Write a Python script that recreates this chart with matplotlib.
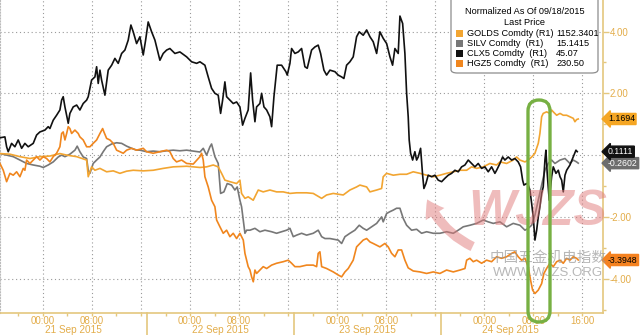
import numpy as np
import matplotlib
matplotlib.use('Agg')
import matplotlib.pyplot as plt
from matplotlib.patches import FancyBboxPatch, Rectangle
import matplotlib.transforms as mtransforms

plt.rcParams['font.family'] = ['Liberation Sans', 'Noto Sans CJK SC', 'DejaVu Sans']

# hours since 21 Sep 2015 00:00 , normalized change
clx5 = [(-7.01, 0.56), (-6.20, 0.59), (-5.92, 0.27), (-5.66, 0.11), (-5.11, 0.38), (-4.57, 0.27), (-4.03, 0.49),
        (-3.47, 0.22), (-2.94, 0.38), (-2.40, 0.27), (-1.58, 0.38), (-1.03, 0.65), (-0.49, 0.75), (0.33, 0.81),
        (0.86, 0.92), (1.14, 0.86), (1.68, 1.13), (2.23, 1.29), (2.77, 1.46), (3.05, 1.78), (3.31, 1.89),
        (3.59, 1.56), (4.13, 1.03), (4.40, 1.35), (4.94, 1.56), (5.50, 1.62), (6.03, 1.46), (6.57, 1.67),
        (7.13, 1.78), (7.39, 1.89), (7.94, 2.43), (8.48, 2.53), (8.76, 2.86), (9.02, 2.32), (9.30, 2.75),
        (9.57, 2.43), (10.11, 1.94), (10.65, 2.75), (11.21, 2.91), (11.74, 3.13), (12.28, 2.97), (12.84, 3.29),
        (13.37, 3.40), (13.91, 3.72), (14.35, 4.21), (14.73, 3.99), (15.28, 3.61), (15.82, 3.83), (16.36, 3.24),
        (16.75, 3.72), (17.17, 4.31), (17.73, 3.99), (18.27, 3.72), (19.08, 3.07), (19.62, 3.29), (20.18, 3.40),
        (20.71, 3.45), (21.53, 3.29), (22.34, 3.34), (23.44, 3.18), (24.25, 3.02), (25.07, 2.97), (25.61, 3.02),
        (26.42, 2.91), (26.96, 2.53), (27.51, 2.16), (28.05, 2.00), (28.59, 1.94), (28.98, 1.35), (29.31, 1.78),
        (29.68, 2.37), (29.96, 1.89), (30.50, 1.78), (31.04, 1.67), (31.59, 1.72), (32.13, 1.56), (32.57, 0.97),
        (32.95, 1.19), (33.48, 1.46), (33.88, 2.66), (34.20, 1.78), (34.58, 1.08), (34.85, 1.56), (35.39, 1.67),
        (35.67, 2.00), (36.05, 1.56), (36.49, 1.46), (37.02, 1.24), (37.30, 0.92), (37.68, 1.89), (38.21, 2.91),
        (38.93, 2.91), (39.63, 2.70), (39.85, 2.59), (40.29, 2.97), (40.56, 3.45), (41.10, 3.29), (41.64, 3.34),
        (42.19, 3.45), (42.73, 2.86), (43.11, 2.81), (43.82, 3.40), (44.36, 3.50), (44.90, 3.56), (45.29, 3.29),
        (45.83, 2.75), (46.27, 2.59), (46.81, 2.75), (47.63, 2.70), (48.16, 2.59), (48.72, 2.53), (49.09, 2.48),
        (49.53, 2.91), (50.07, 3.02), (50.61, 3.18), (51.16, 3.83), (51.59, 3.99), (52.24, 3.88), (52.80, 4.05),
        (53.34, 3.83), (53.87, 3.67), (54.43, 3.29), (54.96, 3.99), (55.50, 3.78), (56.06, 3.61), (56.60, 3.18),
        (57.03, 2.91), (57.41, 3.45), (57.95, 3.29), (58.23, 4.50), (58.67, 4.26), (59.04, 3.29), (59.32, 2.00),
        (59.58, 1.24), (59.74, 0.49), (59.97, 0.06), (60.30, -0.16), (60.67, 0.11), (60.95, -0.16), (61.21, -0.06),
        (61.60, 0.22), (61.93, -0.65), (62.14, -1.08), (62.47, -0.92), (62.84, -0.65), (63.40, -0.70), (63.94, -0.65),
        (64.47, -0.81), (65.03, -0.86), (65.57, -0.75), (66.11, -0.65), (66.66, -0.59), (67.20, -0.49), (67.74, -0.54),
        (68.29, -0.38), (68.83, -0.32), (69.37, -0.16), (69.92, -0.27), (70.46, -0.38), (71.00, -0.27), (71.55, -0.43),
        (72.09, -0.38), (72.63, -0.54), (73.18, -0.38), (73.72, -0.59), (74.00, -0.49), (74.54, -0.27), (74.98, -0.06),
        (75.35, -0.16), (75.89, -0.06), (76.45, -0.16), (76.98, -0.11), (77.52, -0.22), (77.91, -0.38), (78.24, -0.81),
        (78.45, -0.97), (78.89, -0.92), (79.15, -0.97), (79.43, -1.13), (79.71, -1.56), (79.97, -2.00), (80.25, -2.75),
        (80.53, -2.43), (80.79, -2.00), (81.06, -1.67), (81.34, -1.24), (81.60, -1.03), (81.88, -0.16), (82.04, 0.16),
        (82.25, -0.59), (82.58, -1.46), (82.81, -1.03), (82.97, -0.70), (83.24, -0.38), (83.68, -0.59), (84.06, -0.49),
        (84.34, -0.70), (84.61, -0.81), (84.87, -1.19), (85.15, -0.65), (85.42, -0.49), (85.96, -0.32), (86.50, -0.06),
        (86.94, 0.16), (87.15, 0.1111)]

golds = [(-7.01, 0.05), (-5.38, 0.03), (-3.75, -0.05), (-2.12, -0.11), (-0.49, -0.05), (1.14, -0.03), (2.77, 0.05),
         (3.87, 0.00), (5.50, -0.05), (7.13, -0.16), (7.39, -0.70), (7.94, -0.38), (8.48, -0.49), (9.30, -0.43),
         (10.39, -0.54), (11.47, -0.51), (12.56, -0.59), (13.65, -0.52), (14.73, -0.49), (16.36, -0.51),
         (17.99, -0.49), (19.62, -0.43), (21.25, -0.38), (23.44, -0.36), (25.61, -0.40), (26.70, -0.38),
         (27.78, -0.32), (28.59, -0.38), (29.14, -0.59), (29.68, -0.81), (30.50, -0.86), (31.59, -0.92),
         (32.13, -0.81), (32.40, -1.24), (32.95, -1.40), (33.48, -1.35), (34.30, -1.46), (35.12, -1.13),
         (35.93, -1.19), (37.02, -1.13), (38.11, -1.19), (39.19, -1.19), (40.29, -1.24), (41.38, -1.22),
         (43.01, -1.22), (44.09, -1.24), (45.46, -1.40), (46.27, -1.29), (47.35, -1.24), (48.98, -1.29),
         (50.07, -1.13), (51.16, -1.03), (51.70, -0.97), (52.80, -1.03), (53.34, -1.19), (54.43, -1.13),
         (55.24, -1.08), (55.50, -0.70), (56.06, -0.59), (57.14, -0.65), (58.23, -0.62), (59.32, -0.62),
         (60.40, -0.54), (61.49, -0.59), (62.58, -0.65), (63.67, -0.70), (64.75, -0.65), (65.84, -0.59),
         (66.93, -0.54), (68.02, -0.49), (69.11, -0.49), (69.92, -0.38), (70.74, -0.43), (71.82, -0.38),
         (72.91, -0.27), (74.00, -0.32), (74.54, -0.22), (75.63, -0.27), (76.71, -0.16), (77.26, -0.06),
         (77.80, -0.16), (78.62, -0.22), (79.15, -0.16), (79.71, -0.06), (80.25, 0.06), (80.79, 0.38),
         (81.06, 0.70), (81.34, 1.24), (81.60, 1.35), (82.15, 1.40), (82.69, 1.35), (82.97, 1.46), (83.24, 1.40),
         (83.79, 1.29), (84.34, 1.35), (84.87, 1.29), (85.42, 1.29), (85.96, 1.24), (86.50, 1.19), (86.77, 1.08),
         (87.04, 1.15), (87.31, 1.1694)]

silv = [(-7.01, 0.05), (-5.92, 0.00), (-4.84, -0.05), (-3.75, -0.16), (-2.66, -0.27), (-1.58, -0.32), (-0.49, -0.36),
        (0.05, -0.40), (0.86, -0.32), (1.68, -0.22), (2.50, -0.06), (3.05, 0.00), (3.59, -0.05), (4.40, 0.03),
        (5.22, 0.16), (5.59, 0.29), (6.03, 0.11), (6.57, -0.06), (7.13, -0.11), (7.39, -0.49), (7.67, -0.59),
        (8.20, -0.27), (8.76, -0.16), (9.30, -0.06), (9.83, 0.11), (10.39, 0.27), (11.21, 0.36), (12.02, 0.40),
        (12.84, 0.38), (13.65, 0.29), (14.47, 0.22), (15.28, 0.16), (15.82, 0.16), (16.91, 0.11), (17.99, 0.13),
        (19.08, 0.11), (20.18, 0.14), (21.25, 0.16), (22.34, 0.14), (23.44, 0.16), (24.52, 0.13), (25.61, 0.10),
        (26.15, 0.22), (26.70, 0.00), (27.24, 0.27), (27.51, 0.36), (28.05, -0.05), (28.59, -0.27), (28.98, -1.24),
        (29.52, -1.19), (30.06, -0.92), (30.77, -0.97), (31.31, -1.13), (31.69, -1.03), (32.13, -1.46), (32.40, -1.67),
        (32.68, -2.10), (32.95, -2.53), (33.23, -2.43), (33.77, -2.43), (34.58, -2.37), (35.39, -2.48), (36.21, -2.43),
        (37.30, -2.48), (38.11, -2.53), (38.93, -2.48), (39.75, -2.43), (40.29, -2.37), (40.83, -2.64), (41.38, -2.59),
        (42.19, -2.53), (43.01, -2.59), (44.09, -2.53), (44.90, -2.43), (45.46, -2.64), (46.00, -2.70), (46.81, -2.70),
        (47.63, -2.73), (48.16, -2.75), (48.72, -2.86), (49.26, -2.64), (50.07, -2.53), (50.88, -2.43), (51.59, -2.27),
        (52.24, -2.37), (52.80, -2.43), (53.61, -2.32), (54.43, -2.21), (55.24, -2.00), (55.50, -2.16), (56.06, -1.89),
        (56.60, -1.83), (57.14, -1.78), (57.68, -1.72), (58.23, -1.72), (58.77, -2.05), (59.32, -2.27), (60.13, -2.43),
        (60.95, -2.40), (61.76, -2.53), (62.58, -2.48), (63.67, -2.53), (64.75, -2.53), (65.84, -2.48), (66.93, -2.53),
        (67.74, -2.43), (68.56, -2.32), (69.64, -2.27), (70.74, -2.21), (71.82, -2.10), (72.63, -2.16), (73.45, -2.21),
        (74.54, -2.16), (75.63, -2.32), (76.71, -2.21), (77.80, -2.27), (78.62, -2.43), (79.15, -2.37), (79.71, -2.27),
        (80.25, -1.94), (80.79, -1.46), (81.34, -0.97), (81.88, -0.49), (82.42, -0.27), (82.97, -0.16), (83.51, -0.27),
        (84.34, -0.16), (85.15, -0.11), (85.96, -0.27), (86.50, -0.16), (87.04, -0.22), (87.31, -0.2602)]

hgz5 = [(-7.01, -0.27), (-6.47, -0.49), (-5.92, -0.86), (-5.38, -0.59), (-4.84, -0.65), (-4.29, -0.54), (-3.75, -0.70),
        (-3.21, -0.43), (-2.94, -0.49), (-2.66, -0.16), (-2.12, -0.27), (-1.58, -0.16), (-1.03, -0.05), (-0.49, -0.16),
        (0.05, -0.05), (0.60, -0.11), (1.14, -0.22), (1.68, -0.05), (2.23, 0.06), (2.77, 0.27), (3.05, 0.70),
        (3.31, 0.75), (3.59, 0.49), (3.87, 0.70), (4.13, 0.92), (4.40, 0.86), (4.68, 0.70), (5.22, 0.81), (5.76, 0.70),
        (6.03, 0.59), (6.57, 0.49), (7.13, 0.27), (7.67, 0.27), (8.20, 0.38), (8.76, 0.49), (9.30, 0.70), (9.74, 0.86),
        (9.95, 0.75), (10.39, 0.54), (10.93, 0.49), (11.47, 0.38), (12.02, 0.16), (12.56, 0.11), (13.10, 0.06),
        (13.65, 0.16), (14.47, 0.22), (15.28, 0.16), (16.36, 0.22), (16.91, 0.11), (17.99, 0.06), (19.08, 0.11),
        (20.18, 0.16), (20.71, 0.11), (21.25, -0.11), (21.80, -0.22), (22.62, -0.16), (23.44, -0.27), (24.52, -0.29),
        (25.61, -0.05), (25.88, 0.06), (26.15, -0.16), (26.42, -0.70), (26.96, -1.03), (27.51, -1.46), (28.05, -1.67),
        (28.33, -2.10), (28.87, -2.32), (29.41, -2.53), (29.96, -2.43), (30.50, -2.64), (31.04, -2.53), (31.59, -2.70),
        (32.13, -2.53), (32.68, -2.75), (32.95, -3.18), (33.23, -3.40), (33.48, -3.61), (33.77, -3.72), (34.04, -3.94),
        (34.31, -4.10), (34.58, -3.72), (34.85, -3.83), (35.39, -3.72), (35.93, -3.61), (36.49, -3.67), (37.30, -3.56),
        (38.11, -3.50), (39.19, -3.45), (40.01, -3.40), (40.56, -3.50), (41.10, -3.61), (41.92, -3.61), (43.01, -3.56),
        (44.09, -3.56), (44.64, -3.61), (44.90, -3.18), (45.18, -3.13), (45.46, -3.61), (46.27, -3.67), (47.35, -3.78),
        (48.16, -3.88), (48.72, -3.94), (49.26, -3.78), (49.80, -3.67), (50.61, -3.40), (51.16, -2.97), (51.70, -2.86),
        (52.24, -2.75), (52.80, -2.70), (53.34, -2.81), (53.87, -2.86), (54.96, -2.97), (55.77, -2.86), (56.32, -2.97),
        (56.87, -3.18), (57.41, -3.29), (57.95, -3.07), (58.50, -3.07), (59.04, -3.40), (59.58, -3.65), (60.40, -3.75),
        (61.49, -3.78), (62.58, -3.83), (63.67, -3.78), (64.75, -3.83), (65.84, -3.72), (66.93, -3.78), (68.02, -3.72),
        (68.83, -3.67), (69.11, -3.40), (69.64, -3.34), (70.19, -3.45), (70.74, -3.40), (71.55, -3.50), (72.36, -3.40),
        (73.18, -3.45), (74.00, -3.29), (74.81, -3.34), (75.63, -3.29), (76.45, -3.18), (76.98, -3.13), (77.52, -3.29),
        (78.07, -3.40), (78.62, -3.34), (79.15, -3.61), (79.54, -4.05), (79.87, -4.37), (80.25, -4.48), (80.79, -4.37),
        (81.34, -4.16), (81.71, -3.83), (82.15, -3.67), (82.69, -3.50), (83.24, -3.61), (83.79, -3.45), (84.34, -3.40),
        (84.87, -3.50), (85.42, -3.34), (85.96, -3.40), (86.50, -3.29), (87.04, -3.34), (87.31, -3.3948)]

names = ['GOLDS Comdty (R1)', 'SILV Comdty  (R1)', 'CLX5 Comdty  (R1)', 'HGZ5 Comdty  (R1)']
last_price = ['1152.3401', '15.1415', '45.07', '230.50']
colors = ['#f2a531', '#777777', '#111111', '#f0861e']
tag_bg = ['#f5a623', '#6d6d6d', '#111111', '#f58220']
tag_fg = ['black', 'white', 'white', 'black']

day_names = ['21 Sep 2015', '22 Sep 2015', '23 Sep 2015', '24 Sep 2015']

AX = '#e4c77e'
TXT = '#e3ad4a'
FS = 6.6

fig = plt.figure(figsize=(6.4, 3.35), dpi=100)
ax = fig.add_axes([0, 22 / 335, 603 / 640, 313 / 335])
ax.set_xlim(-7.0, 91.35)
ax.set_ylim(-5.11, 5.02)

# grid
for h in range(0, 89, 8):
    ax.axvline(h, color='#9a9a9a', lw=0.8, ls=(0, (1, 2.5)), zorder=0)
for v in [-4, -2, 0, 2, 4]:
    ax.axhline(v, color='#9a9a9a', lw=0.8, ls=(0, (1, 2.5)), zorder=0)

series = [golds, silv, clx5, hgz5]
zs = [3, 2, 4, 3]
for s, c, z in zip(series, colors, zs):
    t, v = np.array(s).T
    ax.plot(t, v, color=c, lw=1.2, zorder=z)

# axes styling
ax.spines['top'].set_visible(False)
ax.spines['left'].set_color('#bbbbbb')
ax.spines['left'].set_linestyle(':')
ax.spines['right'].set_color(AX)
ax.spines['bottom'].set_color(AX)
ax.spines['right'].set_linewidth(1.2)
ax.spines['bottom'].set_linewidth(1.2)

ax.yaxis.tick_right()
ax.set_yticks([-4, -2, 2, 4])
ax.set_yticklabels(['-4.00', '-2.00', '2.00', '4.00'])
ax.set_yticks([-5, -3, -1, 1, 3], minor=True)
ax.tick_params(axis='y', which='major', colors=AX, labelcolor=TXT, length=4, width=1, labelsize=FS + 0.4, pad=1)
ax.tick_params(axis='y', which='minor', colors=AX, length=2.5, width=1)

xt = [0, 8, 24, 32, 48, 56, 72, 80, 88]
ax.set_xticks(xt)
ax.set_xticklabels(['00:00', '08:00'] * 4 + ['16:00'])
ax.set_xticks(np.arange(-4, 92, 4), minor=True)
ax.tick_params(axis='x', which='both', colors=AX, labelcolor=TXT, length=2, width=1, labelsize=FS + 0.4, pad=0.5)

# day separators and date labels
sep = [17, 41, 65]
for h in sep:
    ax.plot([h, h], [0, -0.075], color=AX, lw=1.2, transform=ax.get_xaxis_transform(), clip_on=False)
day_mid = [5, 29, 53, 76.2]
for h, d in zip(day_mid, day_names):
    ax.annotate(d, xy=(h, 0), xycoords=('data', 'axes fraction'), xytext=(0, -12.3),
                textcoords='offset points', ha='center', va='center', color=TXT, fontsize=FS + 0.6)

# last value tags on the right axis
last_vals = [s[-1][1] for s in series]
for val, bg, fg in zip(last_vals, tag_bg, tag_fg):
    txt = '%.4f' % val
    ax.annotate(txt, xy=(1, val), xycoords=('axes fraction', 'data'), xytext=(3.5, 0),
                textcoords='offset points', ha='left', va='center', fontsize=6.3, color=fg,
                bbox=dict(boxstyle='larrow,pad=0.12', fc=bg, ec=bg), annotation_clip=False, zorder=10)

# legend box
lg = FancyBboxPatch((451 / 640, 1 - 73 / 335), 147 / 640, 80 / 335, boxstyle='round,pad=0,rounding_size=0.01',
                    transform=fig.transFigure, fc='white', ec='#8c8c8c', lw=0.9, zorder=20)
fig.patches.append(lg)
fig.text(525 / 640, 1 - 12 / 335, 'Normalized As Of 09/18/2015', ha='center', va='center', fontsize=FS, zorder=21)
fig.text(525 / 640, 1 - 22.5 / 335, 'Last Price', ha='center', va='center', fontsize=FS, zorder=21)
for i, (n, p, c) in enumerate(zip(names, last_price, colors)):
    y = 1 - (33 + 10.3 * i) / 335
    fig.patches.append(Rectangle((456 / 640, y - 3.5 / 335), 7 / 640, 7 / 335, transform=fig.transFigure,
                                 fc=c, ec='none', zorder=21))
    fig.text(467 / 640, y, n, ha='left', va='center', fontsize=FS, zorder=21)
    fig.text(556 / 640, y, p, ha='left', va='center', fontsize=FS, zorder=21)

# watermark
fig.text(538 / 640, 1 - 212 / 335, 'WJZS', ha='center', va='center', fontsize=36, fontweight='bold',
         style='italic', color='#e07a7a', alpha=0.5, zorder=6)
ax.annotate('', xy=(62.5, -1.35), xytext=(70.5, -3.0),
            arrowprops=dict(arrowstyle='simple,head_width=1.6,head_length=1.2,tail_width=0.7',
                            fc='#e07a7a', ec='none', alpha=0.5, connectionstyle='arc3,rad=-0.2'), zorder=6)
fig.text(548 / 640, 1 - 258 / 335, '中国五金机电指数', ha='center', va='center', fontsize=10.5,
         color='#9a9a9a', alpha=0.7, family=['Noto Sans CJK SC'], zorder=6)
fig.text(548 / 640, 1 - 273 / 335, 'WWW.WJZS.ORG', ha='center', va='center', fontsize=9.5,
         color='#9a9a9a', alpha=0.7, zorder=6)

# highlight oval, drawn in pixel units so the ends are round
oval = FancyBboxPatch((528, 335 - 322), 22, 222, boxstyle='round,pad=0,rounding_size=11',
                      transform=mtransforms.IdentityTransform(), fc='none', ec='#77b043', lw=2.4, zorder=25)
fig.patches.append(oval)

fig.savefig('out.png', dpi=100, facecolor='white')
